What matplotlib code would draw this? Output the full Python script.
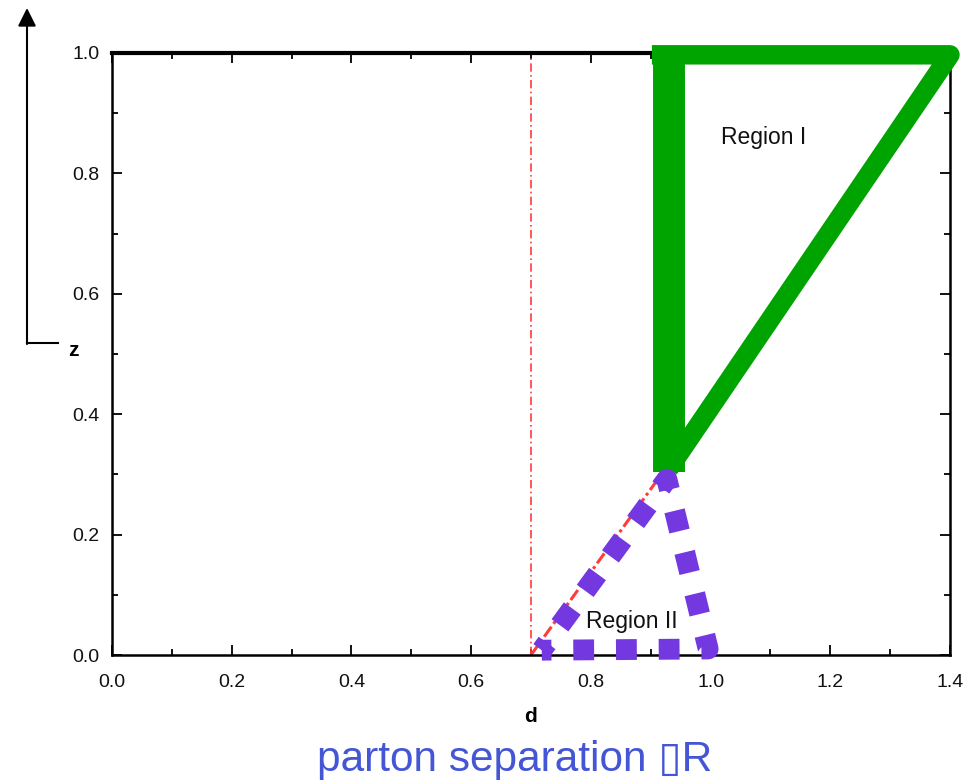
import matplotlib
matplotlib.use("Agg")
import matplotlib.pyplot as plt
from matplotlib.ticker import MultipleLocator, FormatStrFormatter

plt.rcParams['font.family'] = ['Liberation Sans', 'DejaVu Sans']

# boundaries of the two regions (d, z)
region1_vert_d = [0.930, 0.930]
region1_vert_z = [0.304, 1.008]
region1_d = [0.930, 1.40, 0.902]
region1_z = [0.309, 0.997, 0.997]
region2_d = [0.718, 0.927, 0.996, 0.718]
region2_z = [0.008, 0.292, 0.010, 0.008]
cut_vert_d = [0.70, 0.70]
cut_vert_z = [0.0, 1.0]
cut_diag_d = [0.70, 0.925]
cut_diag_z = [0.0, 0.31]
labels = ["Region I", "Region II"]
label_pos = [(1.089, 0.860), (0.869, 0.055)]

W, H = 978, 781
fig = plt.figure(figsize=(W / 100, H / 100), dpi=100)
ax = fig.add_axes([112 / W, 1 - 655 / H, 838 / W, 602 / H])

green = '#00a400'
purple = '#7438e0'
red = '#ff3b3b'

ax.plot(cut_vert_d, cut_vert_z, color=red, lw=1.2, ls=(0, (5, 2, 1, 2)), zorder=2)
ax.plot(cut_diag_d, cut_diag_z, color=red, lw=2.2, ls=(0, (4, 1.2, 1, 1.2)), zorder=2)

ax.plot(region1_vert_d, region1_vert_z, color=green, lw=23, solid_capstyle='butt',
        clip_on=False, zorder=4)
ax.plot(region1_d, region1_z, color=green, lw=14, solid_capstyle='butt',
        solid_joinstyle='round', clip_on=False, zorder=4)

ax.plot(region2_d, region2_z, color=purple, lw=15, ls=(0.57, (1, 1.05)),
        dash_capstyle='butt', clip_on=False, zorder=5)

for txt, (x, y) in zip(labels, label_pos):
    ax.text(x, y, txt, ha='center', va='center', fontsize=16.5, color='#111111', zorder=6)

ax.set_xlim(0, 1.4)
ax.set_ylim(0, 1.0)
ax.xaxis.set_major_locator(MultipleLocator(0.2))
ax.xaxis.set_minor_locator(MultipleLocator(0.1))
ax.yaxis.set_major_locator(MultipleLocator(0.2))
ax.yaxis.set_minor_locator(MultipleLocator(0.1))
ax.tick_params(which='both', direction='in', top=True, right=True, width=1.4, colors='#111111')
ax.tick_params(which='major', length=7)
ax.tick_params(which='minor', length=4)
ax.tick_params(axis='x', which='major', pad=14, labelsize=14)
ax.tick_params(axis='y', which='major', pad=9, labelsize=14)
ax.xaxis.set_major_formatter(FormatStrFormatter('%.1f'))
ax.yaxis.set_major_formatter(FormatStrFormatter('%.1f'))

for side in ['left', 'bottom', 'right']:
    ax.spines[side].set_linewidth(1.8)
ax.spines['top'].set_linewidth(3)

ax.set_xlabel('d', fontsize=15, fontweight='bold', labelpad=11)
fig.text(73 / W, 1 - 350 / H, 'z', fontsize=15, fontweight='bold', ha='center', va='center')

# arrow to the left of the plot
fig.add_artist(plt.Line2D([27 / W, 58 / W], [1 - 343 / H, 1 - 343 / H], color='black', lw=1.5))
ax.annotate('', xy=(27 / W, 1 - 8 / H), xytext=(27 / W, 1 - 344 / H),
            xycoords='figure fraction', textcoords='figure fraction',
            arrowprops=dict(arrowstyle='-|>,head_length=1.1,head_width=0.55', color='black',
                            lw=1.5, shrinkA=0, shrinkB=0))

fig.text(515 / W, 1 - 771 / H, 'parton separation \u25AFR', fontsize=30.5, color='#4455d6',
         ha='center', va='baseline')

fig.savefig('out.png', dpi=100)
